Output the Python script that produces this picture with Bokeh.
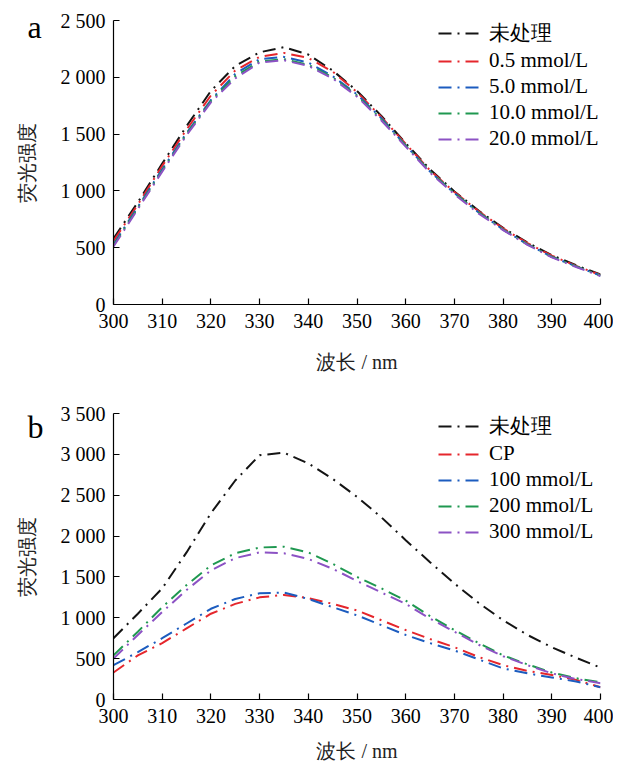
from bokeh.plotting import figure
from bokeh.layouts import column
from bokeh.models import Legend, LegendItem, FixedTicker, Title
from bokeh.embed import file_html
from bokeh.resources import INLINE

# ---------------- data ----------------
wavelength = [300, 305, 310, 315, 320, 325, 330, 335, 340, 345, 350,
              355, 360, 365, 370, 375, 380, 385, 390, 395, 400]

# panel a
a_labels = ["未处理", "0.5 mmol/L", "5.0 mmol/L", "10.0 mmol/L", "20.0 mmol/L"]
a_untreated = [580, 900, 1240, 1570, 1880, 2100, 2220, 2265, 2200, 2060, 1880,
               1660, 1420, 1190, 995, 825, 675, 545, 435, 345, 265]
a_05 = [560, 880, 1220, 1540, 1840, 2060, 2180, 2215, 2170, 2050, 1870,
        1650, 1415, 1180, 990, 820, 670, 540, 430, 340, 260]
a_50 = [530, 860, 1190, 1510, 1800, 2030, 2160, 2180, 2130, 2010, 1850,
        1640, 1400, 1170, 980, 810, 660, 530, 420, 335, 255]
a_100 = [520, 850, 1180, 1500, 1790, 2010, 2140, 2160, 2110, 2000, 1840,
         1630, 1400, 1170, 980, 810, 660, 530, 420, 335, 255]
a_200 = [510, 840, 1170, 1490, 1780, 1990, 2130, 2150, 2100, 1990, 1830,
         1620, 1390, 1160, 970, 800, 655, 525, 415, 330, 250]

# panel b
b_labels = ["未处理", "CP", "100 mmol/L", "200 mmol/L", "300 mmol/L"]
b_untreated = [750, 1050, 1360, 1800, 2280, 2680, 2990, 3020, 2890, 2700, 2480,
               2230, 1950, 1680, 1420, 1180, 970, 790, 640, 510, 390]
b_cp = [330, 540, 690, 870, 1050, 1170, 1250, 1280, 1240, 1170, 1090,
        970, 850, 740, 640, 520, 420, 350, 300, 240, 150]
b_100 = [420, 580, 750, 930, 1110, 1230, 1300, 1310, 1230, 1130, 1030,
         910, 790, 690, 600, 490, 380, 320, 270, 220, 150]
b_200 = [540, 830, 1130, 1400, 1640, 1790, 1860, 1870, 1800, 1660, 1500,
         1360, 1210, 1020, 850, 690, 540, 430, 330, 260, 210]
b_300 = [500, 790, 1070, 1340, 1580, 1730, 1800, 1790, 1720, 1600, 1450,
         1310, 1170, 990, 830, 670, 530, 420, 320, 250, 200]

series_colors = ["#141414", "#e5262c", "#1c5cbf", "#1f9850", "#8c52c4"]

x_ticks = [300, 310, 320, 330, 340, 350, 360, 370, 380, 390, 400]
ya_ticks = [0, 500, 1000, 1500, 2000, 2500]
ya_tick_labels = ["0", "500", "1 000", "1 500", "2 000", "2 500"]
yb_ticks = [0, 500, 1000, 1500, 2000, 2500, 3000, 3500]
yb_tick_labels = ["0", "500", "1 000", "1 500", "2 000", "2 500", "3 000", "3 500"]

x_label = "波长 / nm"
y_label = "荧光强度"

FONT = "Liberation Serif"


def make_panel(letter, series, labels, yticks, ytick_labels, height, top, bottom,
               xlab_standoff, letter_standoff, legend_loc):
    p = figure(width=613, height=height, output_backend="svg", toolbar_location=None,
               x_range=(300, 400), y_range=(0, yticks[-1]),
               min_border_left=113, min_border_right=13,
               min_border_top=top, min_border_bottom=bottom)
    p.outline_line_color = None
    p.grid.grid_line_color = None
    p.background_fill_color = "white"

    for ax in (p.xaxis[0], p.yaxis[0]):
        ax.axis_line_color = "black"
        ax.axis_line_width = 1.2
        ax.major_tick_line_color = "black"
        ax.major_tick_line_width = 1.2
        ax.major_tick_in = 6
        ax.major_tick_out = 0
        ax.minor_tick_line_color = None
        ax.major_label_text_font = FONT
        ax.major_label_text_font_size = "20px"
        ax.major_label_text_color = "black"
        ax.axis_label_text_font = FONT
        ax.axis_label_text_font_size = "20px"
        ax.axis_label_text_font_style = "normal"
        ax.axis_label_text_color = "#222222"

    p.xaxis.ticker = FixedTicker(ticks=x_ticks)
    p.yaxis.ticker = FixedTicker(ticks=yticks)
    p.yaxis.major_label_overrides = {t: s for t, s in zip(yticks, ytick_labels)}
    p.xaxis.major_label_standoff = 9
    p.yaxis.major_label_standoff = 8
    p.xaxis.axis_label = x_label
    p.yaxis.axis_label = y_label
    p.xaxis.axis_label_standoff = xlab_standoff
    p.yaxis.axis_label_standoff = 20

    items = []
    for ys, lab, col in zip(series, labels, series_colors):
        r = p.line(wavelength, ys, line_color=col, line_width=2,
                   line_dash="13 6 2 6")
        items.append(LegendItem(label=lab, renderers=[r]))

    leg = Legend(items=items, location=legend_loc)
    leg.background_fill_alpha = 0
    leg.border_line_alpha = 0
    leg.label_text_font = FONT
    leg.label_text_font_size = "21px"
    leg.label_text_color = "black"
    leg.glyph_width = 45
    leg.glyph_height = 20
    leg.label_height = 20
    leg.label_standoff = 6
    leg.spacing = 1
    leg.padding = 0
    leg.margin = 0
    p.add_layout(leg)

    # panel letter, placed left of the y axis, level with the top of the plot
    p.add_layout(Title(text=letter, align="left", offset=-86, standoff=letter_standoff,
                       text_font=FONT, text_font_size="32px", text_font_style="normal",
                       text_color="black"), "above")
    return p


pa = make_panel("a", [a_untreated, a_05, a_50, a_100, a_200], a_labels,
                ya_ticks, ya_tick_labels, 383, 20, 79, 20, -49, (325, 153))
pb = make_panel("b", [b_untreated, b_cp, b_100, b_200, b_300], b_labels,
                yb_ticks, yb_tick_labels, 381, 30, 65, 14, -62, (325, 155))

layout = column(pa, pb, spacing=0)
open("out.html", "w").write(file_html(layout, INLINE))
